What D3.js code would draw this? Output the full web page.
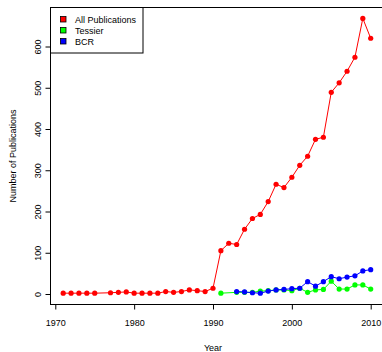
<!DOCTYPE html>
<html>
<head>
<meta charset="utf-8">
<script src="https://cdn.jsdelivr.net/npm/d3@7"></script>
<style>
	body { margin: 0; background: #fff; }
	text { font-family: "Liberation Sans", Arial, sans-serif; fill: #000; }
</style>
</head>
<body>
<svg id="chart" width="382" height="352"></svg>
<script>

// Data

var allYears = [1971, 1972, 1973, 1974, 1975, 1977, 1978, 1979, 1980, 1981, 1982, 1983, 1984, 1985, 1986, 1987, 1988, 1989, 1990,
	1991, 1992, 1993, 1994, 1995, 1996, 1997, 1998, 1999, 2000, 2001, 2002, 2003, 2004, 2005, 2006, 2007, 2008, 2009, 2010];
var allValues = [2, 2, 2, 2, 2, 3, 4, 5, 2, 2, 2, 2, 6, 4, 6, 10, 8, 6, 14,
	105, 123, 120, 157, 183, 193, 224, 266, 258, 283, 312, 334, 375, 380, 489, 512, 540, 574, 668, 620];

var tessierYears = [1991, 1993, 1994, 1995, 1996, 1997, 1998, 1999, 2000, 2001, 2002, 2003, 2004, 2005, 2006, 2007, 2008, 2009, 2010];
var tessierValues = [2, 4, 4, 4, 7, 8, 10, 10, 8, 14, 4, 10, 11, 31, 12, 12, 22, 22, 12];

var bcrYears = [1993, 1994, 1995, 1996, 1997, 1998, 1999, 2000, 2001, 2002, 2003, 2004, 2005, 2006, 2007, 2008, 2009, 2010];
var bcrValues = [6, 5, 3, 2, 7, 10, 11, 13, 14, 30, 19, 30, 42, 37, 41, 44, 56, 59];

var xTicks = [1970, 1980, 1990, 2000, 2010];
var yTicks = [0, 100, 200, 300, 400, 500, 600];

var seriesNames = ["All Publications", "Tessier", "BCR"];
var seriesColors = ["#ff0000", "#00ff00", "#0000ff"];

var series = [
	{ name: seriesNames[0], color: seriesColors[0], years: allYears, values: allValues },
	{ name: seriesNames[1], color: seriesColors[1], years: tessierYears, values: tessierValues },
	{ name: seriesNames[2], color: seriesColors[2], years: bcrYears, values: bcrValues }
];

// Layout

var svg = d3.select("#chart");

var box = { left: 50.5, top: 7.5, right: 383, bottom: 304.5 };

var x = d3.scaleLinear().domain([1970, 2010]).range([55.3, 370.7]);
var y = d3.scaleLinear().domain([0, 600]).range([294, 46.5]);

// Frame
svg.append("rect")
	.attr("x", box.left)
	.attr("y", box.top)
	.attr("width", box.right - box.left)
	.attr("height", box.bottom - box.top)
	.style("fill", "none")
	.style("stroke", "#000")
	.style("stroke-width", 1);

// Axes
var xAxis = svg.append("g")
	.attr("transform", "translate(0," + box.bottom + ")")
	.call(d3.axisBottom(x).tickValues(xTicks).tickFormat(d3.format("d")).tickSize(5).tickPadding(10.5));

var yAxis = svg.append("g")
	.attr("transform", "translate(" + box.left + ",0)")
	.call(d3.axisLeft(y).tickValues(yTicks).tickSize(5).tickPadding(0));

[xAxis, yAxis].forEach(function (g) {
	g.select(".domain").remove();
	g.selectAll("line").style("stroke", "#000");
	g.selectAll("text")
		.style("font-size", "9px")
		.style("font-family", "'Liberation Sans', Arial, sans-serif")
		.style("fill", "#000");
});

yAxis.selectAll(".tick text")
	.attr("x", null)
	.attr("dy", null)
	.attr("text-anchor", "middle")
	.attr("transform", "translate(-10,0) rotate(-90)");

// Axis titles
svg.append("text")
	.attr("x", (55.3 + 370.7) / 2)
	.attr("y", 350.5)
	.attr("text-anchor", "middle")
	.style("font-size", "9px")
	.text("Year");

svg.append("text")
	.attr("transform", "translate(16," + ((box.top + box.bottom) / 2) + ") rotate(-90)")
	.attr("text-anchor", "middle")
	.style("font-size", "9px")
	.text("Number of Publications");

// Series
var line = d3.line()
	.x(function (d) { return x(d.year); })
	.y(function (d) { return y(d.value); });

series.forEach(function (s) {

	var points = s.years.map(function (year, i) {
		return { year: year, value: s.values[i] };
	});

	svg.append("path")
		.datum(points)
		.attr("d", line)
		.style("fill", "none")
		.style("stroke", s.color)
		.style("stroke-width", 1);

	svg.append("g").selectAll("circle")
		.data(points)
		.enter().append("circle")
		.attr("cx", function (d) { return x(d.year); })
		.attr("cy", function (d) { return y(d.value); })
		.attr("r", 2.6)
		.style("fill", s.color);
});

// Legend
var legend = svg.append("g");

legend.append("rect")
	.attr("x", box.left)
	.attr("y", box.top)
	.attr("width", 92.5)
	.attr("height", 45.5)
	.style("fill", "#fff")
	.style("stroke", "#000")
	.style("stroke-width", 1);

var entries = legend.selectAll("g.entry")
	.data(series)
	.enter().append("g")
	.attr("class", "entry")
	.attr("transform", function (d, i) { return "translate(0," + (19.5 + i * 11) + ")"; });

entries.append("rect")
	.attr("x", 60.5)
	.attr("y", -3)
	.attr("width", 5.5)
	.attr("height", 5.5)
	.style("fill", function (d) { return d.color; })
	.style("stroke", "#000")
	.style("stroke-width", 0.8);

entries.append("text")
	.attr("x", 75)
	.attr("y", 3.5)
	.style("font-size", "9px")
	.text(function (d) { return d.name; });

</script>
</body>
</html>
